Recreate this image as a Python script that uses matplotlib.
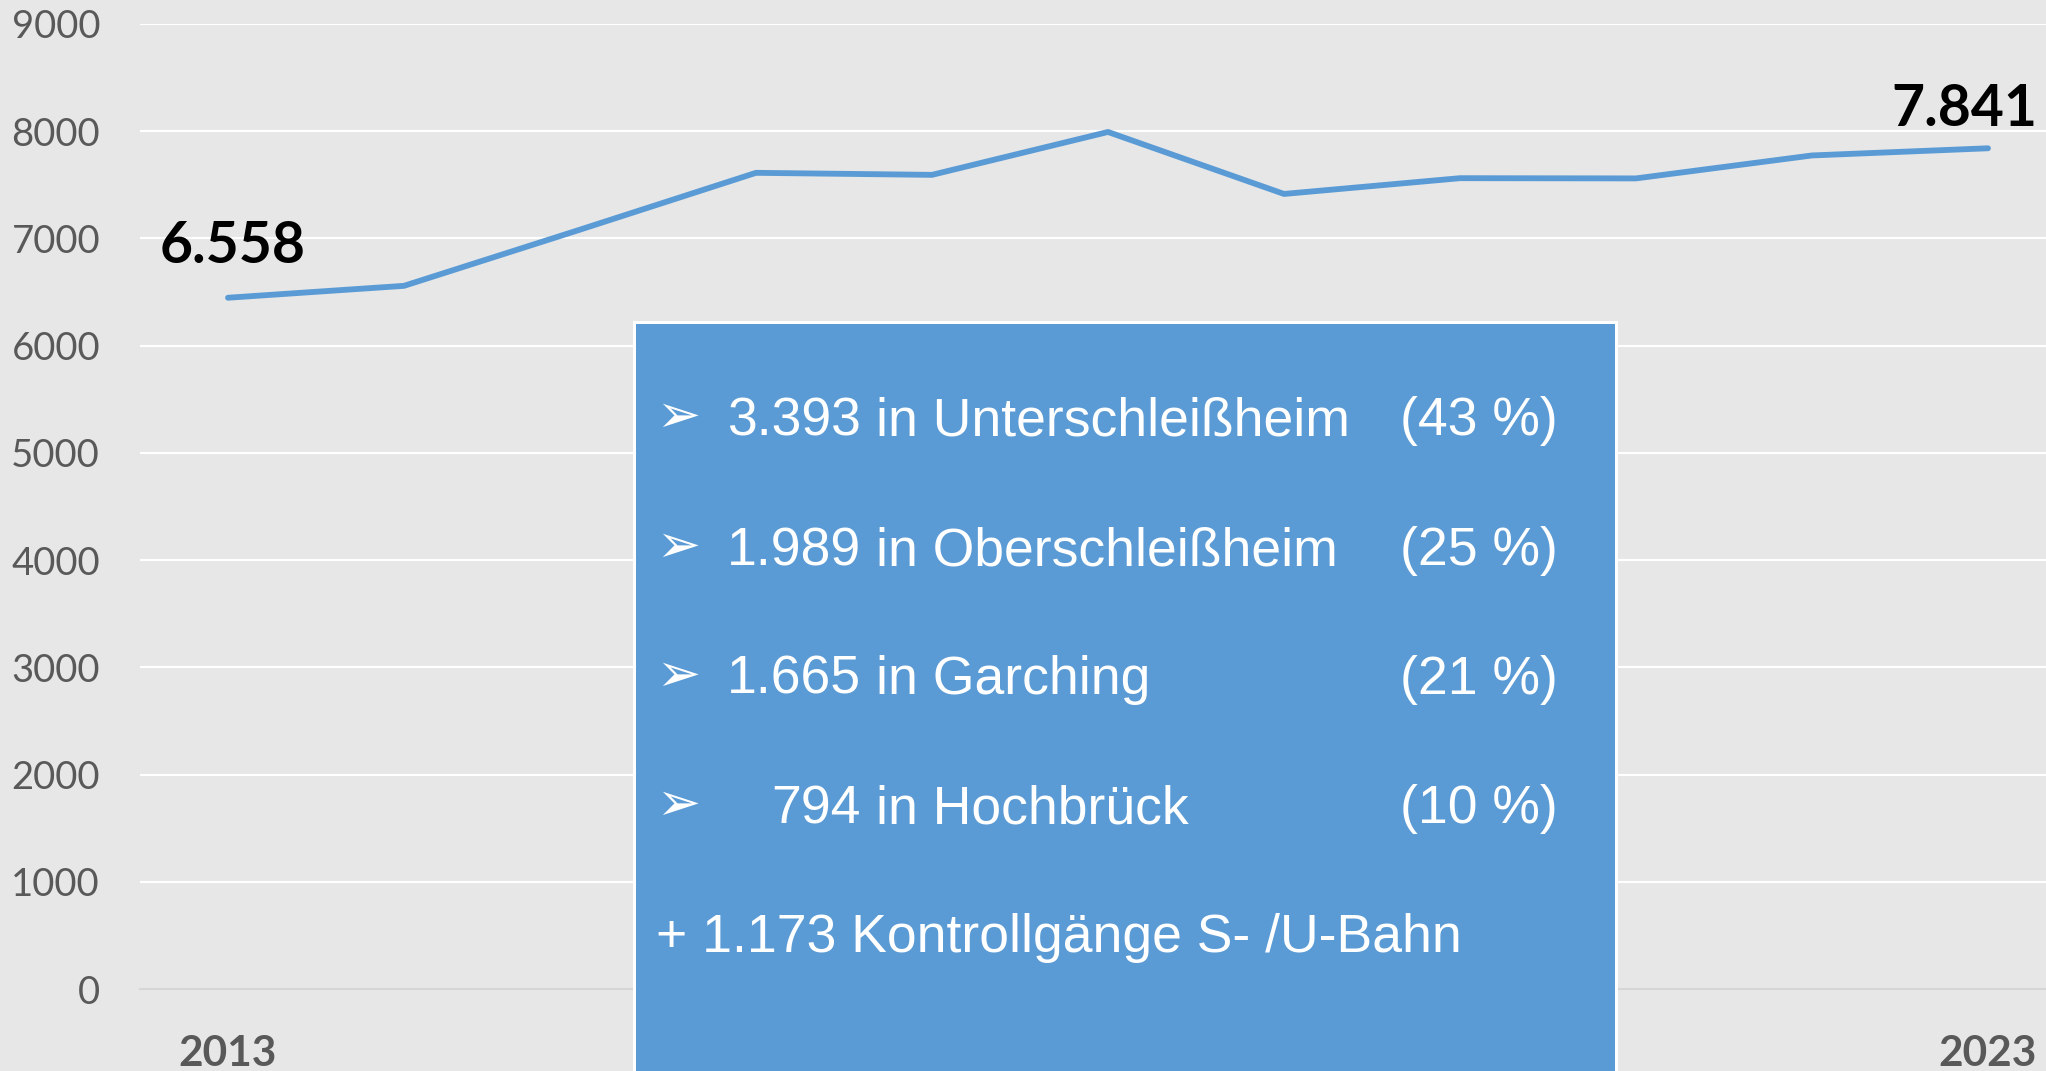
import matplotlib
matplotlib.use('Agg')
import matplotlib.pyplot as plt
from matplotlib.patches import Rectangle

# data ---------------------------------------------------------------------
years = list(range(2013, 2024))
einsaetze = [6447, 6558, 7082, 7612, 7593, 7993, 7415, 7562, 7560, 7774, 7841]
y_ticks = [0, 1000, 2000, 3000, 4000, 5000, 6000, 7000, 8000, 9000]
x_tick_years = [2013, 2023]
label_first = '6.558'
label_last = '7.841'

counts = ['3.393', '1.989', '1.665', '794']
places = ['Unterschleißheim', 'Oberschleißheim', 'Garching', 'Hochbrück']
shares = [43, 25, 21, 10]
extra_line = '+ 1.173 Kontrollgänge S- /U-Bahn'

# styles --------------------------------------------------------------------
BG = '#E7E7E7'
BLUE = '#5B9BD5'
GREY = '#595959'
W, H = 2046, 1071

plt.rcParams['font.family'] = ['Lato', 'DejaVu Sans']


def fx(px):
    return px / W


def fy(py):
    return 1 - py / H


fig = plt.figure(figsize=(W / 100, H / 100), dpi=100, facecolor=BG)
ax = fig.add_axes([fx(140), fy(989), (2076 - 140) / W, (989 - 24) / H])
ax.set_facecolor(BG)

ax.plot(years, einsaetze, color=BLUE, lw=4.2, solid_capstyle='round',
        solid_joinstyle='round')

ax.set_xlim(2012.5, 2023.5)
ax.set_ylim(0, 9000)
ax.set_yticks(y_ticks)
ax.set_yticklabels([str(v) for v in y_ticks])
ax.set_xticks(x_tick_years)
ax.set_xticklabels([str(v) for v in x_tick_years], fontweight='bold')
ax.tick_params(axis='y', length=0, pad=28.8, labelsize=27.5, labelcolor=GREY)
ax.tick_params(axis='x', length=0, pad=33, labelsize=30.5, labelcolor=GREY)

ax.grid(axis='y', color='white', lw=1.5)
ax.set_axisbelow(True)
for s in ['top', 'left', 'right']:
    ax.spines[s].set_visible(False)
ax.spines['bottom'].set_color('#D6D6D6')
ax.spines['bottom'].set_linewidth(1.5)

# end point labels
ax.annotate(label_first, xy=(years[0], einsaetze[0]), xytext=(5, 35),
            textcoords='offset pixels', ha='center', va='baseline',
            fontsize=41, fontweight='bold', color='black')
ax.annotate(label_last, xy=(years[-1], einsaetze[-1]), xytext=(-24, 22),
            textcoords='offset pixels', ha='center', va='baseline',
            fontsize=41, fontweight='bold', color='black')

# info box ------------------------------------------------------------------
fig.patches.append(Rectangle((fx(633), 0), fx(1618) - fx(633), fy(321),
                             transform=fig.transFigure, facecolor='white',
                             edgecolor='none', zorder=5))
fig.patches.append(Rectangle((fx(636), 0), fx(1615) - fx(636), fy(324),
                             transform=fig.transFigure, facecolor=BLUE,
                             edgecolor='none', zorder=6))

box_font = ['Liberation Sans', 'DejaVu Sans']
baselines = [435, 565, 694, 823]
for i in range(len(counts)):
    yb = fy(baselines[i])
    fig.text(fx(656), yb + 3 / H, '\u27a2', color='white', fontsize=38,
             family=['DejaVu Sans'], va='baseline', ha='left', zorder=7)
    fig.text(fx(861), yb, counts[i], color='white', fontsize=38.5,
             family=box_font, va='baseline', ha='right', zorder=7)
    fig.text(fx(876), yb, 'in ' + places[i], color='white', fontsize=38.5,
             family=box_font, va='baseline', ha='left', zorder=7)
    fig.text(fx(1400), yb, '(%d %%)' % shares[i], color='white',
             fontsize=38.5, family=box_font, va='baseline', ha='left',
             zorder=7)
fig.text(fx(656), fy(952), extra_line, color='white', fontsize=38.5,
         family=box_font, va='baseline', ha='left', zorder=7)

fig.savefig('out.png', dpi=100, facecolor=BG)
